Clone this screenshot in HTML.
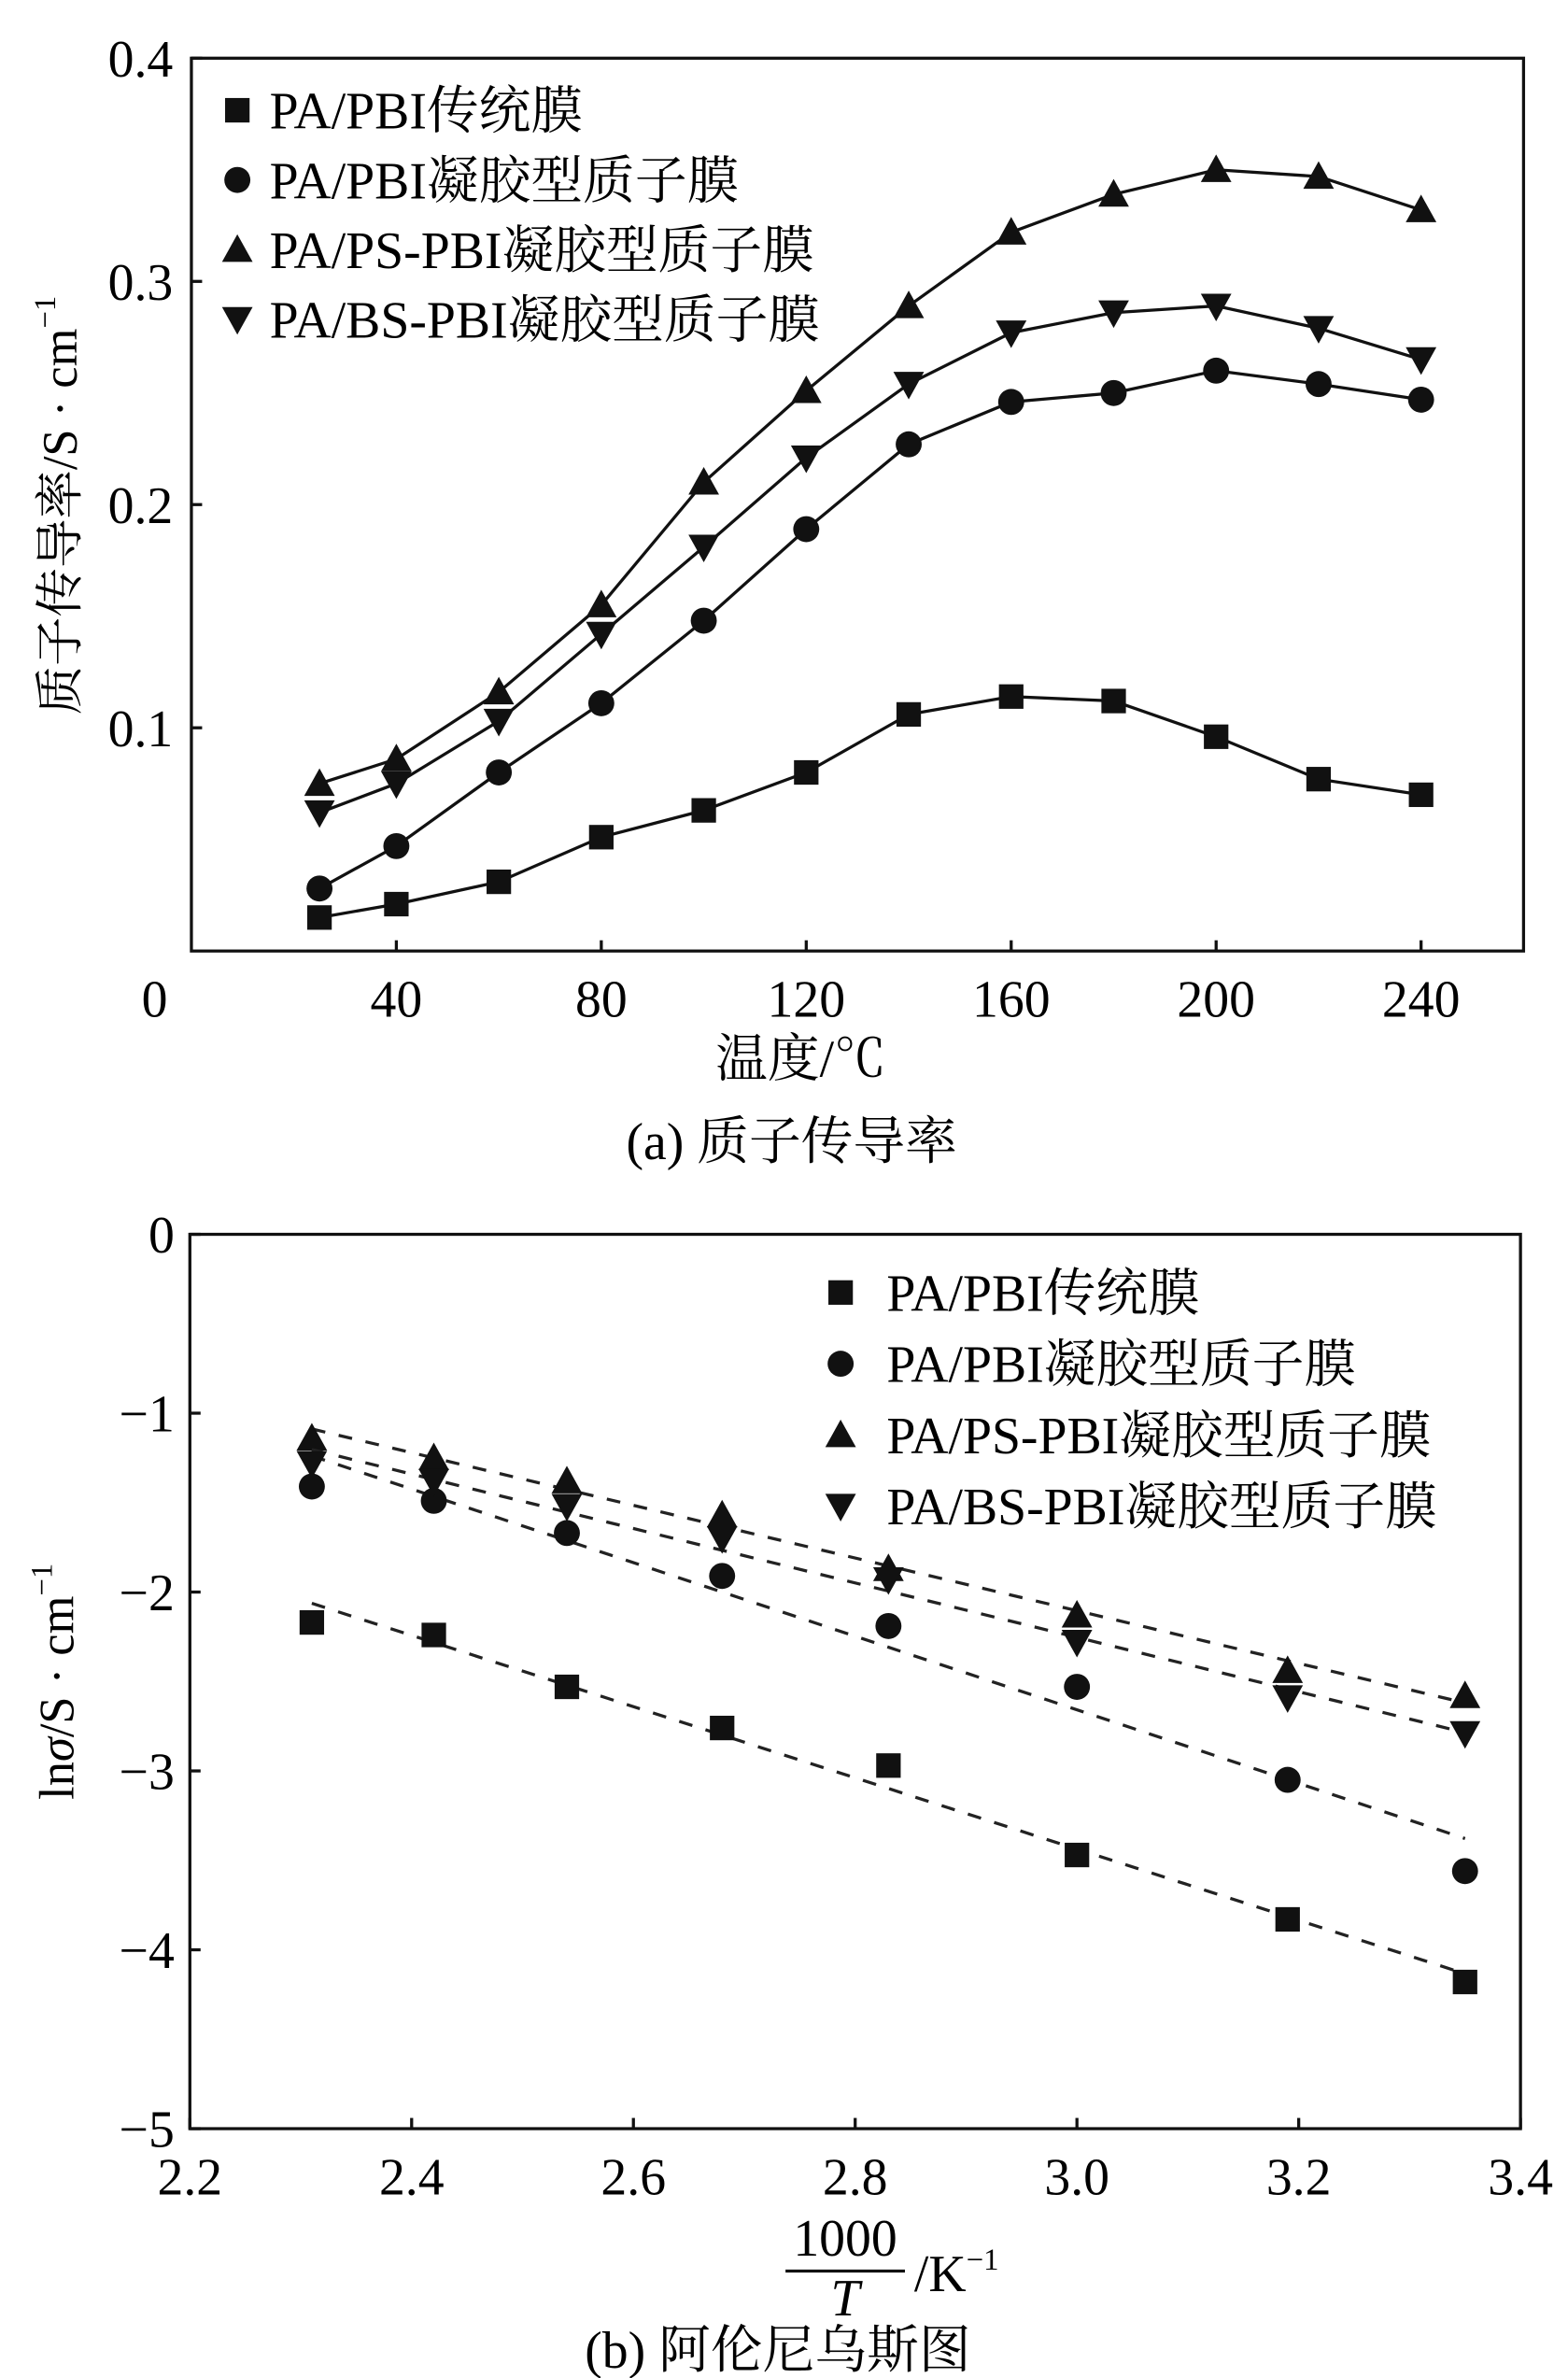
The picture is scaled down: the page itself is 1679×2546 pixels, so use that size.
<!DOCTYPE html>
<html><head><meta charset="utf-8"><style>
html,body{margin:0;padding:0;background:#fff;}
svg{display:block;font-family:"Liberation Serif","Noto Serif CJK SC","Noto Sans CJK SC",serif;}
</style></head><body>
<svg id="fig" width="1679" height="2546" viewBox="0 0 1679 2546">
<g id="root" transform="scale(1.6396)"></g>
</svg>
<script>
// Chart (a) data
const tempsA = [25,40,60,80,100,120,140,160,180,200,220,240];
const aSquare = [0.015,0.021,0.031,0.051,0.063,0.080,0.106,0.114,0.112,0.096,0.077,0.070];
const aCircle = [0.028,0.047,0.080,0.111,0.148,0.189,0.227,0.246,0.250,0.260,0.254,0.247];
const aUp = [0.075,0.086,0.116,0.155,0.210,0.251,0.289,0.322,0.339,0.350,0.347,0.332];
const aDown = [0.062,0.075,0.103,0.142,0.181,0.221,0.254,0.277,0.286,0.289,0.279,0.265];
const aXTicks = [40,80,120,160,200,240];
const aYTicks = [0.1,0.2,0.3,0.4];
// Chart (b) data
const invT = [2.31,2.42,2.54,2.68,2.83,3.00,3.19,3.35];
const bSquare = [-2.17,-2.24,-2.53,-2.76,-2.97,-3.47,-3.83,-4.18];
const bCircle = [-1.41,-1.49,-1.67,-1.91,-2.19,-2.53,-3.05,-3.56];
const bUp = [-1.14,-1.25,-1.38,-1.57,-1.87,-2.13,-2.44,-2.58];
const bDown = [-1.28,-1.38,-1.52,-1.70,-1.93,-2.28,-2.59,-2.79];
const bXTicks = ["2.2","2.4","2.6","2.8","3.0","3.2","3.4"];
const bYTicks = ["0","−1","−2","−3","−4","−5"];
const legendLabels = ["PA/PBI传统膜","PA/PBI凝胶型质子膜","PA/PS-PBI凝胶型质子膜","PA/BS-PBI凝胶型质子膜"];

const NS="http://www.w3.org/2000/svg";
const root=document.getElementById('root');
function mk(tag,attrs,parent,text){const e=document.createElementNS(NS,tag);for(const k in attrs)e.setAttribute(k,attrs[k]);if(text!==undefined)e.textContent=text;(parent||root).appendChild(e);return e;}
function marker(type,x,y,g){
  let e;
  if(type==='square') e=mk('rect',{x:x-8,y:y-8,width:16,height:16,fill:'#111'},g);
  else if(type==='circle') e=mk('circle',{cx:x,cy:y,r:8.5,fill:'#111'},g);
  else if(type==='up') e=mk('polygon',{points:`${x},${y-10} ${x-10},${y+8} ${x+10},${y+8}`,fill:'#111'},g);
  else e=mk('polygon',{points:`${x},${y+10} ${x-10},${y-8} ${x+10},${y-8}`,fill:'#111'},g);
  
  
  return e;
}
const types=['square','circle','up','down'];

// ---------- Chart A ----------
const A={l:125,r:995,t:38,b:621,x0:0,x1:260,y0:0,y1:0.4};
const ax=v=>A.l+(v-A.x0)/(A.x1-A.x0)*(A.r-A.l);
const ay=v=>A.b-(v-A.y0)/(A.y1-A.y0)*(A.b-A.t);
const gA=mk('g',{});


let fr=mk('rect',{x:A.l,y:A.t,width:A.r-A.l,height:A.b-A.t,fill:'none',stroke:'#111','stroke-width':2},gA);


aXTicks.forEach(v=>{
  mk('line',{x1:ax(v),x2:ax(v),y1:A.b,y2:A.b-7,stroke:'#111','stroke-width':2},gA);
  const t=mk('text',{x:ax(v),y:A.b+43,'font-size':34,'text-anchor':'middle'},gA,String(v));
  
  
});
let t0=mk('text',{x:101,y:A.b+43,'font-size':34,'text-anchor':'middle'},gA,'0');


aYTicks.forEach(v=>{
  mk('line',{x1:A.l,x2:A.l+7,y1:ay(v),y2:ay(v),stroke:'#111','stroke-width':2},gA);
  const t=mk('text',{x:A.l-12,y:ay(v)+12,'font-size':34,'text-anchor':'end'},gA,v.toFixed(1));
  
  
});
[aSquare,aCircle,aUp,aDown].forEach((s,i)=>{
  const g=mk('g',{},gA);
  
  
  mk('polyline',{points:s.map((v,j)=>ax(tempsA[j])+','+ay(v)).join(' '),fill:'none',stroke:'#111','stroke-width':2},g);
  s.forEach((v,j)=>marker(types[i],ax(tempsA[j]),ay(v),g));
});
legendLabels.forEach((lab,i)=>{
  const y=72+i*45.5;
  marker(types[i],155,y,gA);
  const t=mk('text',{x:176,y:y+12,'font-size':34},gA,lab);
  
  
});
let yt=mk('text',{transform:'translate(50,330) rotate(-90)','font-size':32,'text-anchor':'middle'},gA);
yt.innerHTML='质子传导率/S · cm<tspan font-size="20" dy="-14">−1</tspan>';


let xt=mk('text',{x:523,y:703,'font-size':34,'text-anchor':'middle'},gA,'温度/℃');


let ca=mk('text',{x:517,y:757,'font-size':34,'text-anchor':'middle'},gA,'(a) 质子传导率');



// ---------- Chart B ----------
const B={l:124,r:993,t:806,b:1390,x0:2.2,x1:3.4,y0:-5,y1:0};
const bx=v=>B.l+(v-B.x0)/(B.x1-B.x0)*(B.r-B.l);
const by=v=>B.b-(v-B.y0)/(B.y1-B.y0)*(B.b-B.t);
const gB=mk('g',{});


fr=mk('rect',{x:B.l,y:B.t,width:B.r-B.l,height:B.b-B.t,fill:'none',stroke:'#111','stroke-width':2},gB);


bXTicks.forEach(s=>{
  const v=parseFloat(s);
  mk('line',{x1:bx(v),x2:bx(v),y1:B.b,y2:B.b-7,stroke:'#111','stroke-width':2},gB);
  const t=mk('text',{x:bx(v),y:B.b+43,'font-size':34,'text-anchor':'middle'},gB,s);
  
  
});
bYTicks.forEach(s=>{
  const v=parseFloat(s.replace('−','-'));
  mk('line',{x1:B.l,x2:B.l+7,y1:by(v),y2:by(v),stroke:'#111','stroke-width':2},gB);
  const t=mk('text',{x:B.l-10,y:by(v)+12,'font-size':34,'text-anchor':'end'},gB,s);
  
  
});
function fit(xs,ys){const n=xs.length;const mx=xs.reduce((a,b)=>a+b)/n,my=ys.reduce((a,b)=>a+b)/n;let sxy=0,sxx=0;xs.forEach((x,i)=>{sxy+=(x-mx)*(ys[i]-my);sxx+=(x-mx)*(x-mx);});const k=sxy/sxx;return [k,my-k*mx];}
[bSquare,bCircle,bUp,bDown].forEach((s,i)=>{
  const g=mk('g',{},gB);
  
  
  const [k,c]=fit(invT,s);
  const xa=invT[0],xb=invT[invT.length-1];
  const ln=mk('line',{x1:bx(xa),y1:by(k*xa+c),x2:bx(xb),y2:by(k*xb+c),stroke:'#222','stroke-width':2,'stroke-dasharray':'9 9'},g);
  
  
  s.forEach((v,j)=>marker(types[i],bx(invT[j]),by(v),g));
});
legendLabels.forEach((lab,i)=>{
  const y=844+i*46.5;
  marker(types[i],549,y,gB);
  const t=mk('text',{x:579,y:y+12,'font-size':34},gB,lab);
  
  
});
yt=mk('text',{transform:'translate(48,1098) rotate(-90)','font-size':32,'text-anchor':'middle'},gB);
yt.innerHTML='ln<tspan font-style="italic">σ</tspan>/S · cm<tspan font-size="20" dy="-14">−1</tspan>';


const xtg=mk('g',{},gB);


mk('text',{x:552,y:1473,'font-size':34,'text-anchor':'middle'},xtg,'1000');
mk('line',{x1:513,x2:591,y1:1483,y2:1483,stroke:'#111','stroke-width':2},xtg);
mk('text',{x:552,y:1512,'font-size':34,'text-anchor':'middle','font-style':'italic'},xtg,'T');
const kt=mk('text',{x:597,y:1496,'font-size':34},xtg);
kt.innerHTML='/K<tspan font-size="20" dy="-14">−1</tspan>';
let cb=mk('text',{x:508,y:1546,'font-size':34,'text-anchor':'middle'},gB,'(b) 阿伦尼乌斯图');


</script>
</body></html>
